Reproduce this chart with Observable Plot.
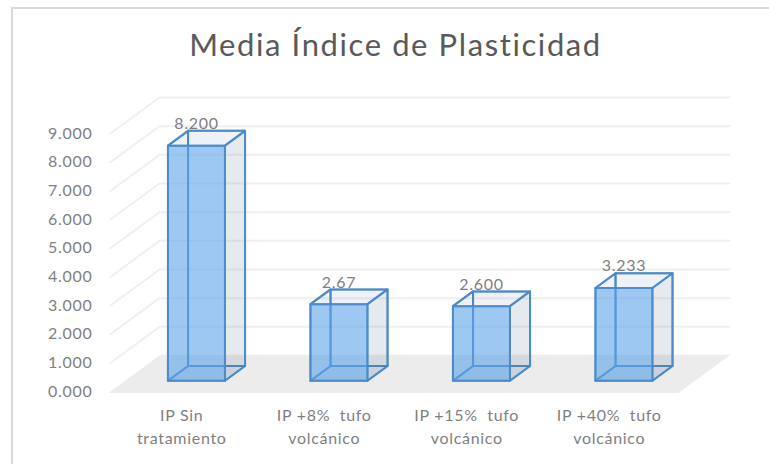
<!DOCTYPE html>
<html>
<head>
<meta charset="utf-8">
<script src="https://cdn.jsdelivr.net/npm/d3@7"></script>
<script src="https://cdn.jsdelivr.net/npm/@observablehq/plot@0.6"></script>
<style>
  html, body { margin: 0; padding: 0; background: #fff; }
  #page { position: relative; width: 769px; height: 464px; overflow: hidden; font-family: Lato, sans-serif; }
  #frame { position: absolute; left: 11px; top: 7px; width: 770px; height: 470px; border-left: 2px solid #d9d9d9; border-top: 2px solid #d9d9d9; }
  #title { position: relative; height: 80px; box-sizing: border-box; padding-top: 29px; text-align: center; padding-left: 22px;
           font-size: 31px; line-height: 30px; letter-spacing: 1.6px; color: #595959; }
  #chart svg { display: block; background: transparent; position: relative; }
  #chart svg text { letter-spacing: 0.7px; }
</style>
</head>
<body>
<div id="page">
  <div id="frame"></div>
  <div id="title"></div>
  <div id="chart"></div>
</div>
<script>
const chartTitle = "Media Índice de Plasticidad";
const categories = ["IP Sin\ntratamiento", "IP +8%  tufo\nvolcánico", "IP +15%  tufo\nvolcánico", "IP +40%  tufo\nvolcánico"];
const values = [8.2, 2.67, 2.6, 3.233];
const valueLabels = ["8.200", "2.67", "2.600", "3.233"];
const yTicks = [0, 1, 2, 3, 4, 5, 6, 7, 8, 9];

// Oblique projection: depth z (0 = front, 1 = back wall) shifts x and y in data units
const depthX = 0.344, depthY = 1.256;
const barHalf = 0.2, zFront = 0.3, zBack = 0.71;
const px = (c, z) => c + z * depthX;
const py = (v, z) => v + z * depthY;
const pt = (face, c, z, v) => ({face, x: px(c, z), y: py(v, z)});
const centers = categories.map((_, i) => i + 0.5);

// Faces of each box
const box = (name, fn) => values.flatMap((v, i) => {
  const l = centers[i] - barHalf, r = centers[i] + barHalf;
  return fn(`${name}${i}`, l, r, v);
});
const quad = (f, a, b, c, d) => [pt(f, ...a), pt(f, ...b), pt(f, ...c), pt(f, ...d), pt(f, ...a)];
const backFace = box("back", (f, l, r, v) => quad(f, [l, zBack, 0], [r, zBack, 0], [r, zBack, v], [l, zBack, v]));
const leftFace = box("left", (f, l, r, v) => quad(f, [l, zFront, 0], [l, zBack, 0], [l, zBack, v], [l, zFront, v]));
const bottomFace = box("bottom", (f, l, r, v) => quad(f, [l, zFront, 0], [r, zFront, 0], [r, zBack, 0], [l, zBack, 0]));
const rightFace = box("right", (f, l, r, v) => quad(f, [r, zFront, 0], [r, zBack, 0], [r, zBack, v], [r, zFront, v]));
const topFace = box("top", (f, l, r, v) => quad(f, [l, zFront, v], [r, zFront, v], [r, zBack, v], [l, zBack, v]));
const frontFace = box("front", (f, l, r, v) => quad(f, [l, zFront, 0], [r, zFront, 0], [r, zFront, v], [l, zFront, v]));

const floor = quad("floor", [0, -0.04, 0], [4, -0.04, 0], [4, 1.02, 0], [0, 1.02, 0]);
const grid = yTicks.slice(1).flatMap(v => [pt(v, 0, 0, v), pt(v, 0, 1, v), pt(v, 4, 1, v)]);
const labelRows = values.map((v, i) => ({x: px(centers[i], zFront), y: py(v, zBack), text: valueLabels[i]}));

const edge = "#4a88c6", textColor = "#7f7f7f";
const faceOpts = (fill, fillOpacity) => ({x: "x", y: "y", z: "face", fill, fillOpacity, stroke: edge, strokeWidth: 2, strokeOpacity: 0.85, strokeLinejoin: "round", curve: "linear"});

document.getElementById("title").textContent = chartTitle;
const plot = Plot.plot({
  width: 769, height: 384,
  marginLeft: 110, marginRight: 40, marginTop: 17, marginBottom: 73,
  x: {domain: [0, 4 + depthX]},
  y: {domain: [0, 9 + depthY]},
  style: {fontFamily: "Lato, sans-serif", background: "transparent"},
  marks: [
    Plot.line(grid, {x: "x", y: "y", z: "face", stroke: "#f0f0f0", strokeWidth: 2}),
    Plot.line(floor, {x: "x", y: "y", z: "face", fill: "#ececec", stroke: "none"}),
    Plot.line(backFace, faceOpts("none", 0)),
    Plot.line(leftFace, faceOpts("none", 0)),
    Plot.line(bottomFace, faceOpts("#4f8fcd", 0.08)),
    Plot.line(rightFace, faceOpts("#44688f", 0.14)),
    Plot.line(topFace, faceOpts("#44688f", 0.09)),
    Plot.line(frontFace, faceOpts("#5ba4e8", 0.6)),
    Plot.text(labelRows, {x: "x", y: "y", text: "text", dy: -7, fill: textColor, fontSize: 16}),
    Plot.axisY({ticks: yTicks, tickFormat: d3.format(".3f"), tickSize: 0, tickPadding: 18, label: null, fontSize: 16, color: textColor}),
    Plot.axisX({ticks: centers, tickFormat: d => categories[centers.indexOf(d)], tickSize: 0, tickPadding: 14, label: null, fontSize: 16, lineHeight: 1.4, color: textColor})
  ]
});
document.getElementById("chart").appendChild(plot);
</script>
</body>
</html>
